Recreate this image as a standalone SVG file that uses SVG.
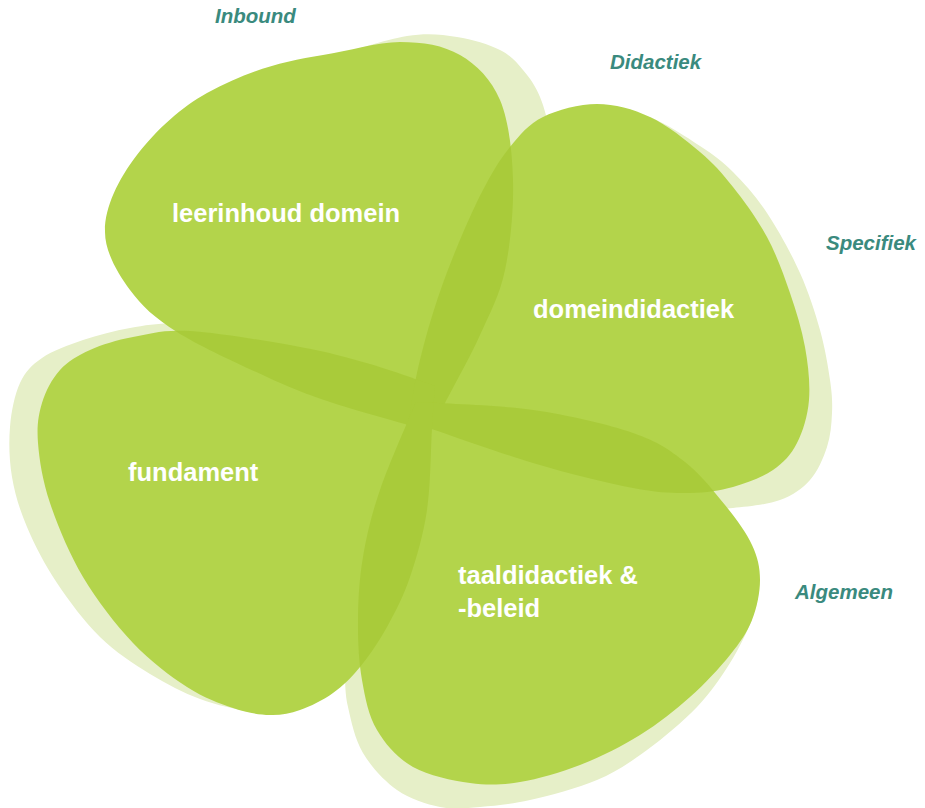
<svg xmlns="http://www.w3.org/2000/svg" xmlns:xlink="http://www.w3.org/1999/xlink" width="925" height="808" viewBox="0 0 925 808">
<style>
.shadow{fill:#e6efc8}
.petal{fill:#b3d44b}
.ov{fill:#a9cb3a}
.name{font-family:"Liberation Sans",Arial,sans-serif;font-weight:bold;font-size:25.5px;fill:#ffffff}
.tag{font-family:"Liberation Sans",Arial,sans-serif;font-weight:bold;font-style:italic;font-size:20.5px;fill:#3a8a7e}
</style>
<defs>
<path id="p1" d="M430,431 C413.8,426.3 360.2,412 333,403 C305.8,394 293,388.8 267,377 C241,365.2 199.8,346.5 177,332 C154.2,317.5 142,306.2 130,290 C118,273.8 105,252 105,232 C104,185 157,120.5 207,93 C247,71 283,61 323,55 C349,51 377.2,42 400,42 C422.8,42 443.3,45.3 460,55 C476.7,64.7 491.2,79.2 500,100 C508.8,120.8 512.2,151.7 513,180 C513.8,208.3 510.5,244.2 505,270 C499.5,295.8 490,312.8 480,335 C470,357.2 453.3,387 445,403 C436.7,419 432.5,426.3 430,431 Z"/>
<path id="p2" d="M409,421 C410.3,413 413,391 417,373 C421,355 426.7,333.2 433,313 C439.3,292.8 446.7,272.5 455,252 C463.3,231.5 473.8,207.5 483,190 C492.2,172.5 500,159.2 510,147 C520,134.8 528.5,124.2 543,117 C557.5,109.8 579.2,104 597,104 C614.8,104 632.8,109 650,117 C667.2,125 686.2,140.3 700,152 C713.8,163.7 721.8,172.8 733,187 C744.2,201.2 757.5,219.3 767,237 C776.5,254.7 783.7,274.7 790,293 C796.3,311.3 801.8,329.2 805,347 C808.2,364.8 810.3,384 809,400 C807.7,416 803,431.3 797,443 C791,454.7 783.7,462.7 773,470 C762.3,477.3 746.8,483.2 733,487 C719.2,490.8 706.7,492.8 690,493 C673.3,493.2 659.2,493 633,488 C606.8,483 570.3,474.2 533,463 C495.7,451.8 429.7,428 409,421 Z"/>
<path id="p3" d="M435,386 C434.5,393 433.3,407.3 432,428 C430.7,448.7 430.7,485.2 427,510 C423.3,534.8 416.7,557.5 410,577 C403.3,596.5 395.3,612 387,627 C378.7,642 369,656 360,667 C351,678 343,685.8 333,693 C323,700.2 310.5,706.3 300,710 C289.5,713.7 281.2,715.3 270,715 C258.8,714.7 246.8,712.7 233,708 C219.2,703.3 203.7,697.8 187,687 C170.3,676.2 150.3,661.3 133,643 C115.7,624.7 96.8,600.3 83,577 C69.2,553.7 57.5,525.3 50,503 C42.5,480.7 39.3,459.7 38,443 C36.7,426.3 38.3,415.2 42,403 C45.7,390.8 52,378.8 60,370 C68,361.2 77.8,355.5 90,350 C102.2,344.5 116.3,340.2 133,337 C149.7,333.8 162.2,329.3 190,331 C217.8,332.7 270,341.5 300,347 C330,352.5 347.5,357.5 370,364 C392.5,370.5 424.2,382.3 435,386 Z"/>
<path id="p4" d="M416,402 C435.5,403.3 496.8,404.8 533,410 C569.2,415.2 607.7,424.3 633,433 C658.3,441.7 669.7,450 685,462 C700.3,474 713.8,491.2 725,505 C736.2,518.8 746.2,532.5 752,545 C757.8,557.5 760,567.5 760,580 C760,592.5 757,607.5 752,620 C747,632.5 740.3,642.2 730,655 C719.7,667.8 705,683.7 690,697 C675,710.3 658.3,723.7 640,735 C621.7,746.3 600,757.2 580,765 C560,772.8 538.3,779 520,782 C501.7,785 487.8,785.5 470,783 C452.2,780.5 428.5,775.8 413,767 C397.5,758.2 385.5,744.5 377,730 C368.5,715.5 365.2,698.3 362,680 C358.8,661.7 357.8,640.5 358,620 C358.2,599.5 359.3,578.7 363,557 C366.7,535.3 371.2,515.8 380,490 C388.8,464.2 410,416.7 416,402 Z"/>
<clipPath id="c1"><use xlink:href="#p1" href="#p1"/></clipPath>
<clipPath id="c2"><use xlink:href="#p2" href="#p2"/></clipPath>
<clipPath id="c3"><use xlink:href="#p3" href="#p3"/></clipPath>
</defs>
<g id="shadows">
<path class="shadow" d="M330,57 C349.5,52 385.8,39.3 407,36 C428.2,32.7 441.5,34.7 457,37 C472.5,39.3 489,44.5 500,50 C511,55.5 516.3,62.2 523,70 C529.7,77.8 535.5,86.2 540,97 C544.5,107.8 547.8,121.2 550,135 C552.2,148.8 553,165 553,180 L530,260 L470,380 L440,420 L330,200 Z"/>
<path class="shadow" d="M650,117 C666.7,124 686.2,136.8 700,146 C713.8,155.2 721.8,160.8 733,172 C744.2,183.2 755.8,196.2 767,213 C778.2,229.8 791.2,253.5 800,273 C808.8,292.5 815,312.2 820,330 C825,347.8 828,366.2 830,380 C832,393.8 832.5,401.8 832,413 C831.5,424.2 830.7,435.8 827,447 C823.3,458.2 817.8,471.2 810,480 C802.2,488.8 792.8,495.3 780,500 C767.2,504.7 746.3,506.7 733,508 C719.7,509.3 712.2,508 700,508 L620,470 L600,200 Z"/>
<path class="shadow" d="M250,712 C236.7,709.3 216.7,705.3 200,699 C183.3,692.7 166.7,684.3 150,674 C133.3,663.7 115.5,652.2 100,637 C84.5,621.8 69.2,601.3 57,583 C44.8,564.7 34.5,544.7 27,527 C19.5,509.3 14.8,493.7 12,477 C9.2,460.3 8.7,442.7 10,427 C11.3,411.3 14.7,394.5 20,383 C25.3,371.5 31.5,365.2 42,358 C52.5,350.8 68.3,345 83,340 C97.7,335 115,330.8 130,328 C145,325.2 156.3,323.7 173,323 C189.7,322.3 212.2,322.8 230,324 L400,392 L380,600 L260,705 Z"/>
<path class="shadow" d="M752,620 C747.5,630.5 739.2,648.5 730,663 C720.8,677.5 710.8,692.5 697,707 C683.2,721.5 663.7,737.8 647,750 C630.3,762.2 616.5,771.7 597,780 C577.5,788.3 549.5,795.5 530,800 C510.5,804.5 495,805.8 480,807 C465,808.2 453.8,809.8 440,807 C426.2,804.2 409.8,799 397,790 C384.2,781 371.2,766.8 363,753 C354.8,739.2 351,720.3 348,707 C345,693.7 345.3,684.2 345,673 C344.7,661.8 345.2,650.5 346,640 L390,560 L600,600 L740,600 Z"/>
</g>
<g id="node-leerinhoud">
<use xlink:href="#p1" href="#p1" class="petal"/>
<text class="name" x="172" y="222">leerinhoud domein</text>
</g>
<g id="node-domeindidactiek">
<use xlink:href="#p2" href="#p2" class="petal"/>
<text class="name" x="533" y="318">domeindidactiek</text>
</g>
<g id="node-fundament">
<use xlink:href="#p3" href="#p3" class="petal"/>
<text class="name" x="128" y="481">fundament</text>
</g>
<g id="node-taaldidactiek">
<use xlink:href="#p4" href="#p4" class="petal"/>
<text class="name" x="458" y="584">taaldidactiek &amp;</text>
<text class="name" x="458" y="617">-beleid</text>
</g>
<g id="overlaps">
<use xlink:href="#p2" href="#p2" class="ov" clip-path="url(#c1)"/>
<use xlink:href="#p3" href="#p3" class="ov" clip-path="url(#c1)"/>
<use xlink:href="#p4" href="#p4" class="ov" clip-path="url(#c1)"/>
<use xlink:href="#p3" href="#p3" class="ov" clip-path="url(#c2)"/>
<use xlink:href="#p4" href="#p4" class="ov" clip-path="url(#c2)"/>
<use xlink:href="#p4" href="#p4" class="ov" clip-path="url(#c3)"/>
</g>
<g id="axis-labels">
<text class="tag" x="215" y="23">Inbound</text>
<text class="tag" x="610" y="69">Didactiek</text>
<text class="tag" x="826" y="250">Specifiek</text>
<text class="tag" x="795" y="599">Algemeen</text>
</g>
<g id="connectors"/>
</svg>
